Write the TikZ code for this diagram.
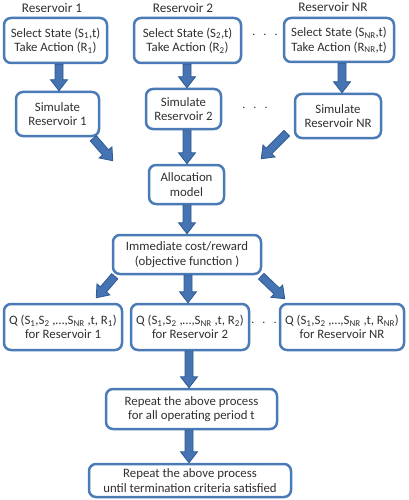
\documentclass[tikz,border=0pt]{standalone}
\usepackage{fontspec}
\setmainfont{Carlito}
\usetikzlibrary{calc}
\definecolor{boxblue}{HTML}{4A7BB7}
\definecolor{arrfill}{HTML}{4673B2}
\definecolor{arrline}{HTML}{2E5A93}
\definecolor{txt}{HTML}{303030}
\tikzset{
  box/.style={draw=boxblue, line width=2.5pt, rounded corners=7pt, fill=white,
    align=center, inner sep=2pt, text=txt, font={\fontsize{12.8}{14.5}\selectfont}},
  title/.style={text=txt, font={\fontsize{13.2}{15}\selectfont}, inner sep=0pt},
  dots/.style={text=txt, font={\fontsize{12}{14}\selectfont}, inner sep=0pt},
  barrow/.style={fill=arrfill, draw=arrline, line width=0.8pt, line join=miter}
}
\newcommand\barrow[2]{%
  \draw[barrow] let \p1=($(#2)-(#1)$), \n1={atan2(\y1,\x1)}, \n2={veclen(\x1,\y1)} in
    [shift={(#1)}, rotate=\n1]
    (0pt,-4pt) -- (\n2-11pt,-4pt) -- (\n2-11pt,-8.5pt) -- (\n2,0pt) --
    (\n2-11pt,8.5pt) -- (\n2-11pt,4pt) -- (0pt,4pt) -- cycle;}
\begin{document}
\begin{tikzpicture}[x=1pt,y=-1pt]
\useasboundingbox (0,0) rectangle (408,500);
% titles
\node[title] (t1) at (52,8) {Reservoir 1};
\node[title] (t2) at (183,8) {Reservoir 2};
\node[title] (t3) at (333,7) {Reservoir NR};
% row 1
\node[box, minimum width=103pt, minimum height=45pt] (sel1) at (55.5,40.5)
  {Select State (S\textsubscript{1},t)\\Take Action (R\textsubscript{1})};
\node[box, minimum width=107pt, minimum height=45pt] (sel2) at (187.5,40.5)
  {Select State (S\textsubscript{2},t)\\Take Action (R\textsubscript{2})};
\node[box, minimum width=110pt, minimum height=44pt] (sel3) at (339,40)
  {Select State (S\textsubscript{NR},t)\\Take Action (R\textsubscript{NR},t)};
\node[dots] (d1) at (265,35) {.\ \ \ .\ \ \ .};
% row 2
\node[box, minimum width=83pt, minimum height=44pt] (sim1) at (57.5,114)
  {Simulate\\Reservoir 1};
\node[box, minimum width=75pt, minimum height=40pt] (sim2) at (183.5,109)
  {Simulate\\Reservoir 2};
\node[box, minimum width=86pt, minimum height=44pt] (sim3) at (338,116)
  {Simulate\\Reservoir NR};
\node[dots] (d2) at (255,108) {.\ \ \ .\ \ \ .};
% allocation
\node[box, minimum width=75pt, minimum height=39pt] (alloc) at (186.5,184.5)
  {Allocation\\model};
\node[box, minimum width=148pt, minimum height=39pt] (imm) at (187,254.5)
  {Immediate cost/reward\\(objective function )};
% Q row
\node[box, minimum width=118pt, minimum height=46pt] (q1) at (63,327)
  {Q (S\textsubscript{1},S\textsubscript{2} ,…,S\textsubscript{NR} ,t, R\textsubscript{1})\\for Reservoir 1};
\node[box, minimum width=118pt, minimum height=46pt] (q2) at (190,327)
  {Q (S\textsubscript{1},S\textsubscript{2} ,…,S\textsubscript{NR} ,t, R\textsubscript{2})\\for Reservoir 2};
\node[box, minimum width=124pt, minimum height=46pt] (q3) at (342,327)
  {Q (S\textsubscript{1},S\textsubscript{2} ,…,S\textsubscript{NR} ,t, R\textsubscript{NR})\\for Reservoir NR};
\node[dots] (d3) at (264,323) {.\ \ \ .\ \ \ .};
% repeat
\node[box, minimum width=171pt, minimum height=40pt] (rep1) at (191.5,409)
  {Repeat the above process\\for all operating period t};
\node[box, minimum width=202pt, minimum height=33pt] (rep2) at (190,480.5)
  {Repeat the above process\\until termination criteria satisfied};
% arrow endpoints
\coordinate (a1s) at ($(sel1.south)+(3.5,0)$);
\coordinate (a1e) at (a1s |- sim1.north);
\coordinate (a2s) at ($(sel2.south)+(-0.5,0)$);
\coordinate (a2e) at (a2s |- sim2.north);
\coordinate (a3s) at ($(sel3.south)+(3,0)$);
\coordinate (a3e) at (a3s |- sim3.north);
\coordinate (b1s) at ($(sim1.south east)+(-7,1)$);
\coordinate (b1e) at ($(alloc.north west)+(-35,-3)$);
\coordinate (b2s) at ($(sim2.south)+(3.5,0)$);
\coordinate (b2e) at (b2s |- alloc.north);
\coordinate (b3s) at ($(sim3.south west)+(-7,-6)$);
\coordinate (b3e) at ($(alloc.north east)+(36,-5)$);
\coordinate (c1s) at ($(alloc.south)+(0.5,0)$);
\coordinate (c1e) at (c1s |- imm.north);
\coordinate (e1s) at ($(imm.south west)+(3,1)$);
\coordinate (e1e) at ($(q1.north east)+(-27,-5)$);
\coordinate (e2s) at ($(imm.south)+(1,0)$);
\coordinate (e2e) at (e2s |- q2.north);
\coordinate (e3s) at ($(imm.south east)+(-1,1)$);
\coordinate (e3e) at ($(q3.north west)+(6,-4)$);
\coordinate (f1s) at ($(q2.south)+(-1,0)$);
\coordinate (f1e) at (f1s |- rep1.north);
\coordinate (g1s) at ($(rep1.south)+(-2.5,0)$);
\coordinate (g1e) at (g1s |- rep2.north);
\barrow{a1s}{a1e}
\barrow{a2s}{a2e}
\barrow{a3s}{a3e}
\barrow{b1s}{b1e}
\barrow{b2s}{b2e}
\barrow{b3s}{b3e}
\barrow{c1s}{c1e}
\barrow{e1s}{e1e}
\barrow{e2s}{e2e}
\barrow{e3s}{e3e}
\barrow{f1s}{f1e}
\barrow{g1s}{g1e}
\end{tikzpicture}
\end{document}
